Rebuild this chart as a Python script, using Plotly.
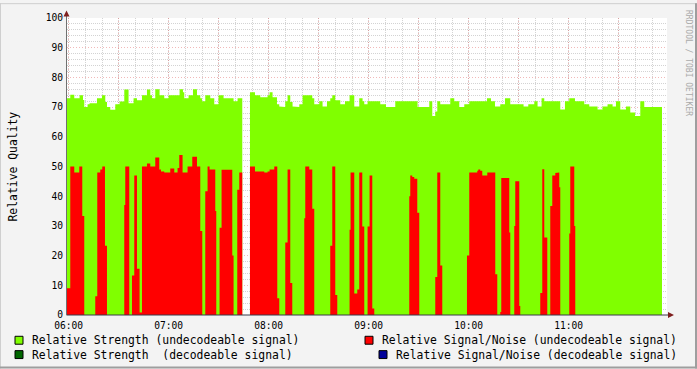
import plotly.graph_objects as go

# ---- data (time in minutes after 06:00) ----
hour_labels = ["06:00", "07:00", "08:00", "09:00", "10:00", "11:00"]
t_end = 356.0

# Relative Strength (undecodeable signal): segment start times and values (None = no data)
strength_t = [-1, 0.96, 3.36, 6.54, 8.58, 9.36, 11.34, 12.54, 16.98, 19.98, 21.96, 22.98, 24.96,
              27.96, 30.54, 33.36, 35.94, 38.94, 40.98, 43.98, 46.98, 48.96, 49.98, 51.96, 54.54,
              57.36, 59.94, 66.54, 68.58, 69.36, 71.94, 74.58, 76.98, 78.96, 79.98, 81.96, 84.96,
              87.36, 89.94, 92.94, 98.94, 101.34, 104.16, 108.78, 111.78, 114.96, 119.34, 120.54,
              122.34, 124.98, 126.36, 128.34, 129.96, 131.34, 132.96, 134.34, 135.96, 138.36, 140.34,
              146.16, 147.36, 150.36, 152.34, 154.98, 156.96, 158.16, 159.96, 162.96, 165.78, 168.54,
              171.36, 174.36, 176.34, 177.36, 179.34, 186.96, 190.38, 195.96, 209.34, 216.36, 218.16,
              219.96, 221.16, 222.96, 228.96, 231.36, 234.36, 237.36, 240.36, 250.98, 253.38, 255.78,
              258.96, 261.78, 264.96, 272.94, 275.76, 279.36, 281.34, 283.74, 285.36, 294.96, 297.78,
              300.36, 303.78, 309.36, 312.36, 317.34, 320.34, 323.34, 326.34, 328.38, 330.96, 334.38,
              336.96, 339.78, 342.96, 345.36]
strength_v = [73, 74.2, 73, 74, 72.4, 70, 71, 71.3, 73, 74, 71.7, 70, 69.1,
              71, 71.9, 75.9, 71.3, 73, 72.3, 74, 75.9, 74, 73, 76, 74,
              73, 74, 76, 75, 73, 74, 76, 74, 73, 72, 74, 73,
              71, 74, 73, 72, 73, None, 75, 74, 73.3, 74, 75,
              73.3, 71, 70.2, 70, 72, 74, 71.7, 70.2, 70, 71, 74,
              73, 71, 72, 70.2, 72, 73, 74, 72.3, 71, 72, 74,
              70.2, 73, 72, 71, 72, 71, 70, 72, 70, 72, 67,
              68.5, 72, 71, 73, 72, 70, 71, 72, 73, 72, 70.2,
              71, 73, 71, 70.2, 71, 72, 70.2, 73, 72, 69.2, 72,
              73, 72, 71, 70.2, 69.2, 70.2, 71, 70.2, 72, 69.2, 70.2,
              68.2, 67, 72, 70]

# Relative Signal/Noise (undecodeable signal)
snr_t = [-1, 0.96, 3.36, 6.36, 8.16, 9.36, 15.96, 17.16, 18.96, 20.16, 21.78, 22.98, 33.36, 33.96,
         36.36, 37.98, 39.36, 40.98, 42.54, 43.98, 46.98, 48.96, 51.96, 54.36, 55.38, 57.36, 60.96,
         63.36, 65.34, 66.36, 68.34, 71.34, 74.16, 76.98, 78.96, 80.16, 81.96, 83.34, 84.54, 87.96,
         88.56, 90.54, 91.74, 98.16, 98.94, 101.16, 102.36, 104.16, 108.78, 111.78, 117.36, 119.34,
         120.54, 123.36, 125.16, 126.36, 129.96, 131.34, 132.96, 134.16, 141.36, 141.96, 144.36,
         146.16, 147.36, 156.96, 158.16, 159.96, 161.16, 168.54, 169.14, 171.36, 173.16, 174.36,
         176.16, 177.36, 179.34, 180.54, 182.16, 183.36, 204.36, 204.96, 206.16, 207.36, 209.16,
         210.36, 219.96, 221.16, 222.96, 224.16, 238.98, 240.36, 245.16, 245.76, 246.96, 248.16,
         251.16, 255.96, 257.16, 258.96, 259.56, 264.36, 264.96, 267.36, 267.96, 270.36, 270.96,
         282.96, 284.16, 285.36, 287.16, 288.96, 290.16, 291.96, 293.16, 294.36, 294.96, 300.36,
         300.96, 303.36, 303.96]
snr_v = [9, 50, 48, 50, 33.3, 0, 6.3, 48, 49, 50, 23.3, 0, 37, 50,
         0, 13.3, 47, 15.6, 0.8, 50, 51, 50, 53, 49, 48.3, 48, 49.3,
         48, 49.5, 53.9, 48, 50, 53.3, 50, 28.3, 0, 41.7, 50, 49, 35,
         0, 29.4, 48.9, 20, 0, 42.2, 48, None, 50, 48.3, 48, 48.3,
         49, 50, 5.6, 0, 24.4, 49, 10.8, 0, 32.6, 50, 49,
         35.8, 0, 23.3, 50, 6.7, 0, 28.7, 48, 7.2, 8.6, 48,
         29.8, 0, 29.8, 47, 2.2, 0, 40, 47, 46.5, 45.9, 34.4,
         0, 12.8, 48, 16.7, 0, 20, 48, 48.6, 49, 48.6, 47,
         48, 13.7, 0, 1, 46.1, 27.8, 0, 30, 45, 3, 0,
         7.4, 49.1, 26.1, 0, 36.7, 47, 47.8, 48, 43, 0, 27.4,
         50, 30, 0]

legend_items = [
    ("Relative Strength (undecodeable signal)", "#80FF00"),
    ("Relative Signal/Noise (undecodeable signal)", "#FF0000"),
    ("Relative Strength  (decodeable signal)", "#006600"),
    ("Relative Signal/Noise (decodeable signal)", "#000099"),
]


def step_runs(starts, vals, end):
    """Split into contiguous runs (broken at None) of step-shaped x/y lists."""
    runs, xs, ys = [], [], []
    bounds = starts[1:] + [end]
    for s, e, v in zip(starts, bounds, vals):
        if v is None:
            if xs:
                runs.append((xs, ys))
            xs, ys = [], []
        else:
            xs += [s, e]
            ys += [v, v]
    if xs:
        runs.append((xs, ys))
    return runs


W, H = 697, 369
L, R, T, B = 67, 667, 15, 315


def px(x):
    return (x - L) / (R - L)


def py(y):
    return (B - y) / (B - T)


fig = go.Figure()
for xs, ys in step_runs(strength_t, strength_v, t_end):
    fig.add_trace(go.Scatter(x=xs, y=ys, mode="lines", line=dict(width=0, color="#80FF00"),
                             fill="tozeroy", fillcolor="#80FF00",
                             hoverinfo="skip", showlegend=False))
for xs, ys in step_runs(snr_t, snr_v, t_end):
    fig.add_trace(go.Scatter(x=xs, y=ys, mode="lines", line=dict(width=0, color="#FF0000"),
                             fill="tozeroy", fillcolor="#FF0000",
                             hoverinfo="skip", showlegend=False))

mono = "DejaVu Sans Mono"
minor_grid = "rgba(110,110,110,0.3)"
major_grid = "rgba(222,80,80,0.4)"
axis_col = "#3A3A4A"

tickvals = list(range(0, 331, 30))
ticktext = [hour_labels[i // 2] if i % 2 == 0 else "" for i in range(len(tickvals))]

fig.update_xaxes(range=[-1, 359], tickmode="array", tickvals=tickvals, ticktext=ticktext,
                 showgrid=True, gridcolor=major_grid, griddash="1px,2px", gridwidth=1,
                 minor=dict(dtick=10, tick0=0, showgrid=True, gridcolor=minor_grid,
                            griddash="1px,1px", gridwidth=1),
                 showline=False, zeroline=False, ticks="", layer="above traces",
                 ticklabelstandoff=3,
                 tickfont=dict(family=mono, size=9.6, color="#000000"))
fig.update_yaxes(range=[0, 100], dtick=10, tick0=0,
                 showgrid=True, gridcolor=major_grid, griddash="1px,2px", gridwidth=1,
                 minor=dict(dtick=2, tick0=0, showgrid=True, gridcolor=minor_grid,
                            griddash="1px,1px", gridwidth=1),
                 showline=False, zeroline=False, ticks="", layer="above traces",
                 ticklabelstandoff=3,
                 tickfont=dict(family=mono, size=9.6, color="#000000"))

shapes = []
# axis lines with arrows
shapes.append(dict(type="line", xref="paper", yref="paper", x0=px(66.5), x1=px(669), y0=0, y1=0,
                   line=dict(color=axis_col, width=1)))
shapes.append(dict(type="line", xref="paper", yref="paper", x0=px(66.5), x1=px(66.5), y0=0, y1=py(12),
                   line=dict(color="#707070", width=1)))
shapes.append(dict(type="path", xref="paper", yref="paper",
                   path=f"M {px(668)} {py(312)} L {px(674)} {py(315)} L {px(668)} {py(318)} Z",
                   fillcolor="#7F1F1F", line=dict(width=0)))
shapes.append(dict(type="path", xref="paper", yref="paper",
                   path=f"M {px(63.5)} {py(13.5)} L {px(66.5)} {py(7.5)} L {px(69.5)} {py(13.5)} Z",
                   fillcolor="#7F1F1F", line=dict(width=0)))
# frame (3D border)
shapes.append(dict(type="line", xref="paper", yref="paper", x0=px(0), x1=px(697), y0=py(0.5), y1=py(0.5),
                   line=dict(color="#CFCFCF", width=1)))
shapes.append(dict(type="line", xref="paper", yref="paper", x0=px(0.5), x1=px(0.5), y0=py(0), y1=py(369),
                   line=dict(color="#CFCFCF", width=1)))
shapes.append(dict(type="line", xref="paper", yref="paper", x0=px(0), x1=px(697), y0=py(368), y1=py(368),
                   line=dict(color="#9E9E9E", width=2)))
shapes.append(dict(type="line", xref="paper", yref="paper", x0=px(696), x1=px(696), y0=py(0), y1=py(369),
                   line=dict(color="#9E9E9E", width=2)))

annotations = []
# legend
legend_pos = [(15, 30, 340.5), (365, 380, 340.5), (15, 30, 355), (379, 394, 355)]
for (label, col), (sx, tx, cy) in zip(legend_items, legend_pos):
    shapes.append(dict(type="rect", xref="paper", yref="paper",
                       x0=px(sx), x1=px(sx + 8), y0=py(cy - 4), y1=py(cy + 4),
                       fillcolor=col, line=dict(color="#000000", width=1)))
    annotations.append(dict(text=label.replace(" ", "\u00a0"), xref="paper", yref="paper",
                            x=px(tx), y=py(cy), xanchor="left", yanchor="middle",
                            showarrow=False, font=dict(family=mono, size=11.4, color="#000000")))

annotations.append(dict(text="Relative Quality", xref="paper", yref="paper", x=px(12), y=py(165),
                        textangle=-90, showarrow=False, xanchor="center", yanchor="middle",
                        font=dict(family=mono, size=11.4, color="#000000")))
annotations.append(dict(text="RRDTOOL\u00a0/\u00a0TOBI\u00a0OETIKER", xref="paper", yref="paper",
                        x=px(688.5), y=py(60), textangle=90, showarrow=False,
                        xanchor="center", yanchor="middle",
                        font=dict(family=mono, size=8, color="#AAAAAA")))

fig.update_layout(width=W, height=H, margin=dict(l=L, r=W - R, t=T, b=H - B, pad=0),
                  paper_bgcolor="#F3F3F3", plot_bgcolor="#FFFFFF",
                  shapes=shapes, annotations=annotations, showlegend=False)

fig.write_html("out.html")
